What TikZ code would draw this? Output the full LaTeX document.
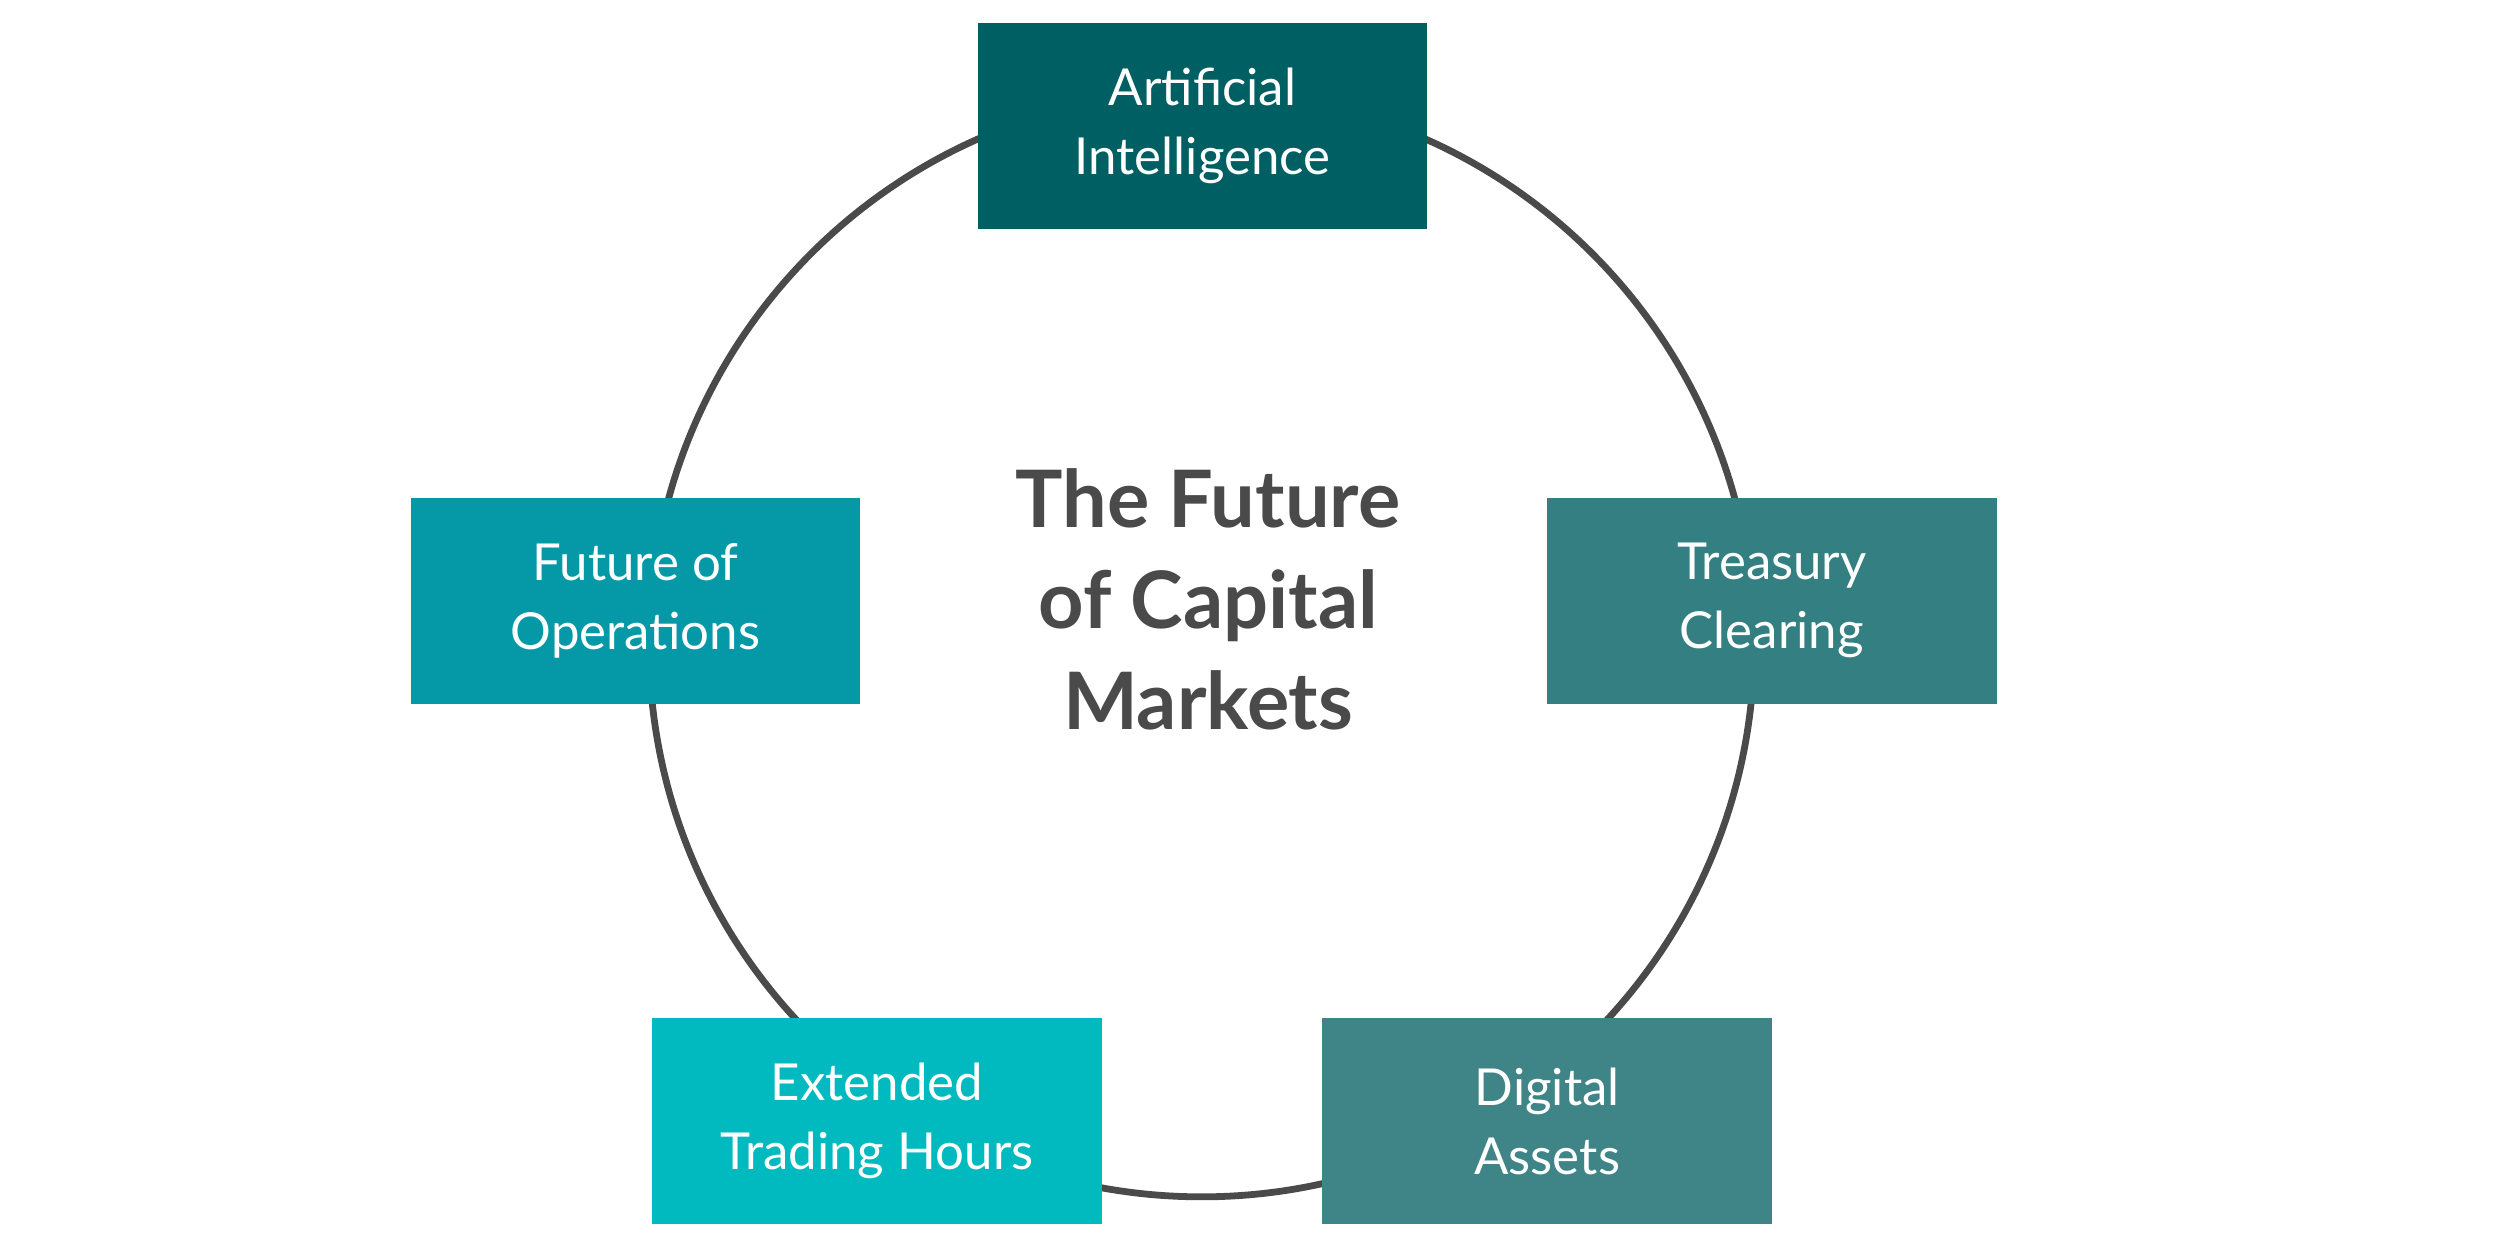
\documentclass[tikz,border=0pt]{standalone}
\usepackage{fontspec}
\setmainfont{Lato}
\usepackage{xcolor}
\definecolor{tealdark}{HTML}{005F62}
\definecolor{tealmid}{HTML}{337F82}
\definecolor{tealgray}{HTML}{3F8587}
\definecolor{tealblue}{HTML}{0599A8}
\definecolor{tealbright}{HTML}{00BAC0}
\definecolor{ringgray}{HTML}{4A4A4A}

\begin{document}
\begin{tikzpicture}[
        box/.style={rectangle, minimum width=2.79cm, minimum height=1.28cm, inner sep=0pt,
                    text=white, align=center, font=\fontsize{9}{12.2}\selectfont}
        ]
        \useasboundingbox (0, 0) rectangle (15.52, 7.76);

        % Ring
        \node[circle, draw=ringgray, line width=1.2pt, minimum size=6.86cm] (ring) at (7.46, 3.76) {};

        % Center title
        \node[text=ringgray, align=center, font=\fontsize{14}{17.8}\selectfont\bfseries] (title) at (7.5, 4.04)
                {The Future\\of Capital\\Markets};

        % Topics
        \node[box, fill=tealdark] (ai) at (7.465, 6.98) {Artificial\\Intelligence};
        \node[box, fill=tealmid] (treasury) at (11.0, 4.03) {Treasury\\Clearing};
        \node[box, fill=tealgray] (digital) at (9.605, 0.80) {Digital\\Assets};
        \node[box, fill=tealbright] (hours) at (5.445, 0.80) {Extended\\Trading Hours};
        \node[box, fill=tealblue] (ops) at (3.945, 4.03) {Future of\\Operations};

\end{tikzpicture}
\end{document}
